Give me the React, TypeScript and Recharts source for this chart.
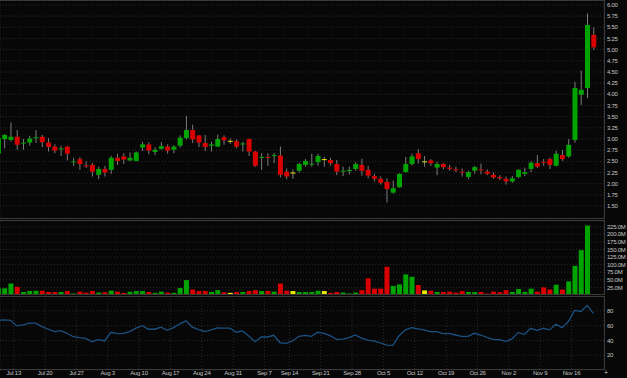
import { ComposedChart, Bar, Line, XAxis, YAxis, CartesianGrid, Cell } from "recharts"

// daily candles, Jul 8 .. Nov 19
const opens = [
  2.67, 3.0, 2.98, 3.05, 2.9, 2.92, 3.02, 3.05, 2.92, 2.83, 2.77, 2.83, 2.48, 2.55, 2.41, 2.42, 2.2, 2.33, 2.31, 2.58,
  2.61, 2.52, 2.51, 2.81, 2.88, 2.71, 2.78, 2.83, 2.76, 2.85, 3.02, 3.2, 3.08, 2.91, 2.85, 2.83, 3.04, 2.96, 2.95, 2.88,
  3.0, 2.72, 2.58, 2.6, 2.62, 2.63, 2.27, 2.25, 2.29, 2.42, 2.43, 2.48, 2.55, 2.53, 2.44, 2.27, 2.28, 2.33, 2.42, 2.31,
  2.17, 2.11, 2.04, 1.8, 1.92, 2.26, 2.44, 2.68, 2.5, 2.52, 2.36, 2.44, 2.36, 2.32, 2.27, 2.15, 2.29, 2.32, 2.27, 2.2,
  2.15, 2.11, 2.05, 2.15, 2.22, 2.33, 2.46, 2.49, 2.55, 2.4, 2.64, 2.61, 2.98, 3.99, 4.14, 5.33,
]
const highs = [
  3.05, 3.11, 3.37, 3.2, 3.0, 3.07, 3.2, 3.09, 3.02, 2.88, 2.85, 2.84, 2.58, 2.59, 2.5, 2.46, 2.38, 2.4, 2.62, 2.67,
  2.68, 2.7, 2.72, 2.94, 2.93, 2.81, 2.93, 2.88, 2.86, 3.08, 3.52, 3.32, 3.09, 3.09, 2.94, 3.1, 3.08, 3.01, 2.99, 2.94,
  3.01, 2.73, 2.68, 2.68, 2.69, 2.83, 2.34, 2.32, 2.47, 2.55, 2.67, 2.67, 2.6, 2.58, 2.53, 2.38, 2.38, 2.48, 2.56, 2.4,
  2.22, 2.16, 2.12, 2.07, 2.23, 2.6, 2.67, 2.77, 2.62, 2.55, 2.49, 2.46, 2.42, 2.38, 2.34, 2.29, 2.4, 2.45, 2.32, 2.25,
  2.19, 2.16, 2.17, 2.32, 2.36, 2.5, 2.64, 2.55, 2.58, 2.74, 2.75, 3.0, 4.28, 4.53, 5.81, 5.5,
]
const lows = [
  2.64, 2.79, 2.94, 2.76, 2.76, 2.85, 2.91, 2.82, 2.72, 2.68, 2.62, 2.52, 2.4, 2.31, 2.35, 2.16, 2.1, 2.16, 2.22, 2.42,
  2.44, 2.5, 2.5, 2.73, 2.66, 2.64, 2.76, 2.67, 2.68, 2.81, 2.99, 2.91, 2.82, 2.73, 2.72, 2.82, 2.87, 2.89, 2.79, 2.72,
  2.62, 2.38, 2.31, 2.4, 2.46, 2.14, 2.1, 2.11, 2.25, 2.38, 2.38, 2.4, 2.38, 2.4, 2.19, 2.17, 2.21, 2.29, 2.18, 2.12,
  2.05, 1.98, 1.58, 1.78, 1.91, 2.25, 2.41, 2.45, 2.38, 2.4, 2.19, 2.32, 2.29, 2.26, 2.16, 2.1, 2.22, 2.21, 2.19, 2.11,
  2.08, 1.98, 2.02, 2.13, 2.17, 2.26, 2.35, 2.4, 2.33, 2.39, 2.51, 2.58, 2.92, 3.76, 3.91, 4.99,
]
const closes = [
  3.02, 3.09, 3.05, 2.87, 2.92, 3.01, 3.04, 2.93, 2.82, 2.74, 2.79, 2.67, 2.5, 2.44, 2.39, 2.27, 2.33, 2.25, 2.58, 2.51,
  2.54, 2.58, 2.7, 2.88, 2.74, 2.76, 2.84, 2.74, 2.83, 3.03, 3.2, 2.99, 2.92, 2.82, 2.88, 3.0, 2.97, 2.96, 2.83, 2.9,
  2.72, 2.4, 2.6, 2.58, 2.64, 2.2, 2.16, 2.25, 2.44, 2.51, 2.45, 2.62, 2.55, 2.46, 2.27, 2.29, 2.31, 2.44, 2.29, 2.18,
  2.11, 2.02, 1.88, 1.9, 2.22, 2.44, 2.61, 2.55, 2.5, 2.46, 2.44, 2.37, 2.33, 2.3, 2.25, 2.26, 2.37, 2.3, 2.22, 2.14,
  2.12, 2.05, 2.12, 2.31, 2.26, 2.47, 2.38, 2.47, 2.42, 2.67, 2.55, 2.87, 4.14, 4.1, 5.55, 5.05,
]
// volume in millions (last session not printed)
const volumes = [
  22, 22, 38, 27, 10, 13, 14, 14, 10, 10, 10, 13, 5, 11, 8, 13, 8, 9, 14, 11,
  7, 11, 13, 13, 10, 7, 11, 8, 7, 23, 49, 18, 13, 13, 10, 16, 9, 7, 10, 10,
  13, 16, 13, 13, 11, 38, 14, 13, 10, 10, 10, 14, 13, 7, 10, 8, 5, 8, 16, 55,
  21, 21, 93, 30, 35, 68, 60, 33, 15, 14, 10, 10, 11, 8, 13, 10, 10, 10, 5, 11,
  9, 16, 10, 20, 10, 21, 11, 25, 18, 34, 18, 45, 96, 148, 229, null,
]
const rsi = [
  67.4, 67.8, 67.0, 59.6, 61.0, 63.3, 63.3, 58.7, 55.1, 51.8, 53.2, 49.6, 45.0, 43.7, 42.8, 38.2, 40.9, 39.2, 51.0, 49.1,
  49.6, 51.8, 56.5, 60.0, 55.1, 55.1, 57.8, 53.7, 57.3, 62.3, 66.4, 57.8, 54.6, 51.8, 54.2, 56.9, 56.5, 56.5, 51.0, 52.8,
  46.0, 38.2, 44.6, 44.6, 46.9, 36.8, 36.0, 39.2, 45.5, 46.8, 45.5, 51.0, 49.6, 46.4, 41.4, 41.8, 43.7, 47.3, 43.2, 40.5,
  39.1, 36.8, 33.6, 33.2, 46.4, 54.2, 57.3, 55.5, 54.2, 51.8, 51.8, 49.1, 49.1, 47.3, 45.5, 45.5, 49.6, 47.3, 44.1, 41.4,
  40.9, 38.6, 41.8, 50.5, 48.2, 56.4, 53.7, 56.4, 54.2, 61.9, 57.3, 65.5, 80.5, 79.1, 87.3, 76.4,
]

const weekIdx = [3, 8, 13, 18, 23, 28, 33, 38, 43, 47, 52, 57, 62, 67, 72, 77, 82, 87, 92]
const weekLabels = [
  "Jul 13", "Jul 20", "Jul 27", "Aug 3", "Aug 10", "Aug 17", "Aug 24", "Aug 31", "Sep 7", "Sep 14",
  "Sep 21", "Sep 28", "Oct 5", "Oct 12", "Oct 19", "Oct 26", "Nov 2", "Nov 9", "Nov 16",
]
const priceTicks = [1.5, 1.75, 2, 2.25, 2.5, 2.75, 3, 3.25, 3.5, 3.75, 4, 4.25, 4.5, 4.75, 5, 5.25, 5.5, 5.75, 6]
const volTicks = [25, 50, 75, 100, 125, 150, 175, 200, 225]
const rsiTicks = [20, 40, 60, 80]

const BG = "#070707"
const GREEN = "#00a400"
const RED = "#d80000"
const YELLOW = "#e8e800"
const WICK = "#7c7c7c"
const GRID = "#2a2a2a"
const BORDER = "#3a3a3a"
const TXT = "#c4c4c4"
const FONT = "Liberation Sans, Arial, sans-serif"

const colorOf = (o: number, c: number) => (c > o ? GREEN : c < o ? RED : YELLOW)

const rows = opens.map((o, i) => ({
  i,
  open: o,
  high: highs[i],
  low: lows[i],
  close: closes[i],
  range: [lows[i], highs[i]],
  vol: volumes[i],
  rsi: rsi[i],
}))

// week ticks sit at the left edge of the monday slot
const xTicks = weekIdx.map((d) => d - 0.5)
const xLabel = (v: number) => weekLabels[xTicks.indexOf(v)] ?? ""
const X_DOMAIN: [number, number] = [0.31, 96.69]

const Candle = (props: any) => {
  const { x, y, width, height, payload } = props
  if (!payload || height == null) return null
  const { open, close, high, low } = payload
  const top = Math.min(y, y + height)
  const h = Math.abs(height)
  const k = high > low ? h / (high - low) : 0
  const py = (v: number) => top + (high - v) * k
  const cx = x + width / 2
  const bTop = py(Math.max(open, close))
  const bH = Math.max(1, py(Math.min(open, close)) - bTop)
  return (
    <g>
      <line x1={cx} x2={cx} y1={top} y2={top + h} stroke={WICK} strokeWidth={1} />
      <rect x={x} y={bTop} width={width} height={bH} fill={colorOf(open, close)} />
    </g>
  )
}

const axisTick = { fill: TXT, fontSize: 6, fontFamily: FONT, letterSpacing: -0.25 }

const panel = (top: number, height: number): React.CSSProperties => ({
  position: "absolute",
  left: -1,
  top,
  width: 606,
  height,
  boxSizing: "border-box",
  border: `1px solid ${BORDER}`,
  pointerEvents: "none",
})

export default function App() {
  return (
    <div style={{ position: "fixed", left: 0, top: 0, width: 627, height: 378, background: BG, overflow: "hidden" }}>
      <div style={{ position: "absolute", left: 0, top: 0 }}>
        <ComposedChart width={627} height={219} data={rows} margin={{ top: 0, right: 0, bottom: 0, left: 0 }}>
          <CartesianGrid stroke={GRID} strokeDasharray="1 2" />
          <XAxis dataKey="i" type="number" domain={X_DOMAIN} allowDataOverflow ticks={xTicks} tick={false} tickLine={false} axisLine={false} height={0} />
          <YAxis
            orientation="right"
            width={23}
            domain={[1.21, 6.11]}
            allowDataOverflow
            ticks={priceTicks}
            interval={0}
            tickSize={3}
            tickMargin={0}
            tickLine={false}
            axisLine={false}
            tick={axisTick}
            tickFormatter={(v: number) => v.toFixed(2)}
          />
          <Bar dataKey="range" barSize={5} shape={(p: any) => <Candle {...p} />} isAnimationActive={false} />
        </ComposedChart>
      </div>

      <div style={{ position: "absolute", left: 0, top: 220.5 }}>
        <ComposedChart width={627} height={74} data={rows} margin={{ top: 0, right: 0, bottom: 0, left: 0 }}>
          <CartesianGrid stroke={GRID} strokeDasharray="1 2" />
          <XAxis dataKey="i" type="number" domain={X_DOMAIN} allowDataOverflow ticks={xTicks} tick={false} tickLine={false} axisLine={false} height={0} />
          <YAxis
            orientation="right"
            width={23}
            domain={[0, 244]}
            allowDataOverflow
            ticks={volTicks}
            interval={0}
            tickSize={3}
            tickMargin={0}
            tickLine={false}
            axisLine={false}
            tick={axisTick}
            tickFormatter={(v: number) => `${v.toFixed(1)}M`}
          />
          <Bar dataKey="vol" barSize={5} isAnimationActive={false}>
            {rows.map((r) => (
              <Cell key={r.i} fill={colorOf(r.open, r.close)} />
            ))}
          </Bar>
        </ComposedChart>
      </div>

      <div style={{ position: "absolute", left: 0, top: 296 }}>
        <ComposedChart width={627} height={82} data={rows} margin={{ top: 0, right: 0, bottom: 0, left: 0 }}>
          <CartesianGrid stroke={GRID} strokeDasharray="1 2" />
          <XAxis
            dataKey="i"
            type="number"
            domain={X_DOMAIN}
            allowDataOverflow
            ticks={xTicks}
            interval={0}
            height={8}
            tickSize={1}
            tickMargin={0}
            tickLine={false}
            axisLine={false}
            tick={axisTick}
            tickFormatter={xLabel}
          />
          <YAxis
            orientation="right"
            width={23}
            domain={[0, 100]}
            ticks={rsiTicks}
            interval={0}
            tickSize={3}
            tickMargin={0}
            tickLine={false}
            axisLine={false}
            tick={axisTick}
          />
          <Line dataKey="rsi" type="linear" stroke="#1b5080" strokeWidth={1.3} dot={false} isAnimationActive={false} />
        </ComposedChart>
      </div>

      <div style={panel(0, 219)} />
      <div style={panel(220, 75)} />
      <div style={panel(296, 74)} />
      <div style={{ position: "absolute", left: 604, top: 369, color: TXT, fontSize: 7, fontFamily: FONT }}>+</div>
    </div>
  )
}
